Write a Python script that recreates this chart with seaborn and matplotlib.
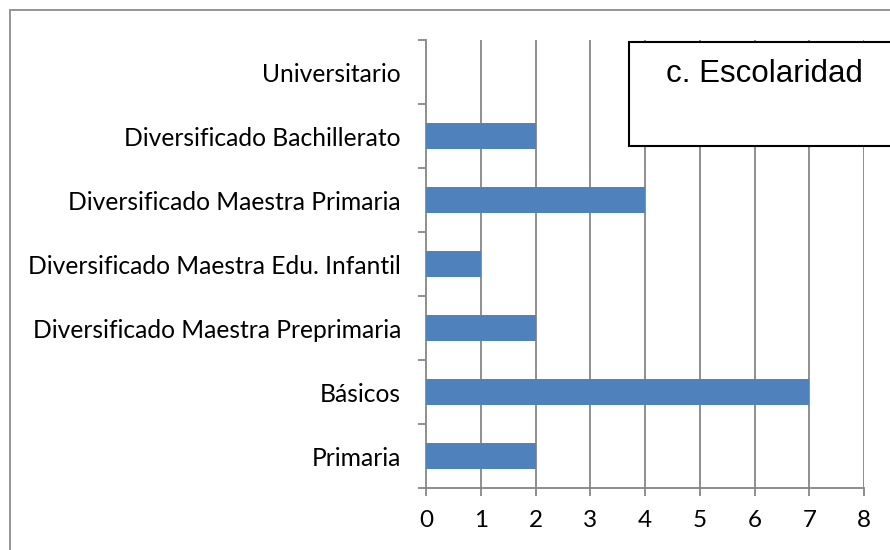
import matplotlib
matplotlib.use("Agg")
import matplotlib.pyplot as plt
from matplotlib.patches import Rectangle
import pandas as pd
import seaborn as sns

# Data (top to bottom as shown)
categorias = [
    "Universitario",
    "Diversificado Bachillerato",
    "Diversificado Maestra Primaria",
    "Diversificado Maestra Edu. Infantil",
    "Diversificado Maestra Preprimaria",
    "Básicos",
    "Primaria",
]
valores = [0, 2, 4, 1, 2, 7, 2]
x_ticks = [0, 1, 2, 3, 4, 5, 6, 7, 8]
titulo = "c. Escolaridad"

df = pd.DataFrame({"categoria": categorias, "valor": valores})

sns.set_style("white")
plt.rcParams["font.family"] = ["Lato", "DejaVu Sans"]
plt.rcParams["text.color"] = "black"
plt.rcParams["xtick.color"] = "black"
plt.rcParams["ytick.color"] = "black"

W, H = 890, 550
fig = plt.figure(figsize=(W / 100, H / 100), dpi=100)
ax = fig.add_axes([426 / W, 1 - 488 / H, (864 - 426) / W, (488 - 40) / H])

grid_col = "#868686"

sns.barplot(data=df, y="categoria", x="valor", order=categorias,
            color="#4F81BD", saturation=1, width=0.4, linewidth=0,
            ax=ax, zorder=3)

ax.set_xlim(0, 8)
ax.set_ylim(len(categorias) - 0.5, -0.5)
ax.set_xticks(x_ticks)
ax.set_xticklabels([str(t) for t in x_ticks], fontsize=17.5)
ax.set_xlabel("")
ax.set_ylabel("")

# vertical gridlines
for t in x_ticks[1:]:
    ax.axvline(t, color=grid_col, lw=1.3, zorder=1)

# category boundary ticks on y axis
ax.set_yticks([i - 0.5 for i in range(len(categorias) + 1)], minor=False)
ax.set_yticklabels([])
ax.set_yticks(range(len(categorias)), minor=True)
ax.set_yticklabels(categorias, minor=True, fontsize=17.7)
ax.tick_params(axis="y", which="major", direction="out", length=6,
               width=1.3, color=grid_col, left=True)
ax.tick_params(axis="y", which="minor", length=0, pad=18)
ax.tick_params(axis="x", direction="out", length=6, width=1.3,
               color=grid_col, bottom=True, pad=10)

for s in ["top", "right"]:
    ax.spines[s].set_visible(False)
for s in ["left", "bottom"]:
    ax.spines[s].set_color(grid_col)
    ax.spines[s].set_linewidth(1.3)

# outer chart border (cropped on right/bottom)
fig.patches.append(Rectangle((10 / W, -0.1), 1.2, 1 - 10 / H + 0.1,
                             transform=fig.transFigure, fill=False,
                             edgecolor="#8c8c8c", lw=1.3))

# title box
fig.patches.append(Rectangle((629 / W, 1 - 146 / H), 0.5, (146 - 42) / H,
                             transform=fig.transFigure, facecolor="white",
                             edgecolor="black", lw=1.5, zorder=5))
fig.text(764 / W, 1 - 74 / H, titulo, ha="center", va="center",
         fontsize=22.5, family=["Liberation Sans", "DejaVu Sans"], zorder=6)

fig.savefig("out.png", dpi=100)
